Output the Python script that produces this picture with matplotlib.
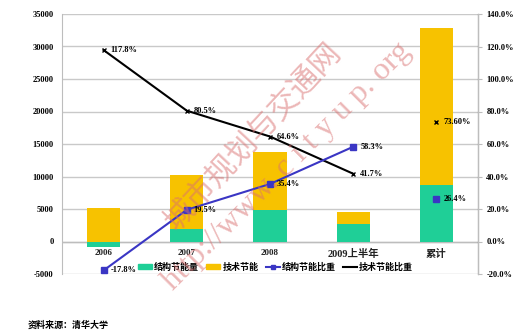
import numpy as np
import matplotlib
matplotlib.use("Agg")
import matplotlib.pyplot as plt
from matplotlib.lines import Line2D
from matplotlib.patches import Patch

categories = ["2006", "2007", "2008", "2009上半年", "累计"]
struct_saving = [-800, 2000, 4900, 2700, 8700]      # 结构节能量
tech_saving = [5200, 8300, 8900, 1900, 24200]       # 技术节能
struct_pct = [-17.8, 19.5, 35.4, 58.3, 26.4]        # 结构节能比重
tech_pct = [117.8, 80.5, 64.6, 41.7, 73.6]          # 技术节能比重
struct_pct_labels = ["-17.8%", "19.5%", "35.4%", "58.3%", "26.4%"]
tech_pct_labels = ["117.8%", "80.5%", "64.6%", "41.7%", "73.60%"]
left_ticks = [-5000, 0, 5000, 10000, 15000, 20000, 25000, 30000, 35000]
right_ticks = [-20, 0, 20, 40, 60, 80, 100, 120, 140]

GREEN = "#1fcf97"
YELLOW = "#f7c200"
BLUE = "#3a36c4"
NUM_FONT = ["Liberation Serif", "Noto Sans CJK SC"]
CJK_FONT = ["Noto Sans CJK SC", "DejaVu Sans"]

fig = plt.figure(figsize=(5.19, 3.33), dpi=100)
fig.patch.set_facecolor("white")
ax = fig.add_axes([62 / 519, 1 - 274 / 333, 416 / 519, 260 / 333])
ax2 = ax.twinx()

x = np.arange(len(categories))
struct = np.array(struct_saving)
tech_bottom = np.where(struct > 0, struct, 0)

ax.bar(x, struct_saving, width=0.4, color=GREEN, zorder=2)
ax.bar(x, tech_saving, width=0.4, bottom=tech_bottom, color=YELLOW, zorder=2)

ax.set_xlim(-0.5, len(categories) - 0.5)
ax.set_ylim(-5000, 35000)
ax.set_yticks(left_ticks)
ax.set_yticklabels([str(t) for t in left_ticks], family=NUM_FONT,
                   fontsize=6, fontweight="bold")
ax.yaxis.grid(True, color="#c9c9c9", linewidth=1.0, zorder=0)
ax.set_axisbelow(True)
ax.tick_params(axis="y", length=0, pad=6)
ax.set_xticks([])
for s in ["top", "bottom"]:
    ax.spines[s].set_visible(False)
ax.spines["left"].set_color("#bdbdbd")
ax.axhline(0, color="#bdbdbd", linewidth=1.0, zorder=1)

for i, c in enumerate(categories):
    ax.text(i, -1100, c, ha="center", va="top", family=NUM_FONT,
            fontsize=6.5 if i < 3 else 7.5, fontweight="bold", color="#222222")

# ratio lines on secondary axis
ax2.set_ylim(-20, 140)
ax2.set_yticks(right_ticks)
ax2.set_yticklabels([f"{t:.1f}%" for t in right_ticks], family=NUM_FONT,
                    fontsize=6, fontweight="bold")
ax2.tick_params(axis="y", length=3, color="#bdbdbd", pad=3)
for s in ["top", "bottom", "left"]:
    ax2.spines[s].set_visible(False)
ax2.spines["right"].set_color("#bdbdbd")

ax2.plot(x[:4], tech_pct[:4], color="black", linewidth=1.5,
         marker="x", markersize=3.5, zorder=4)
ax2.plot(x[4], tech_pct[4], color="black", marker="x", markersize=3.5,
         linestyle="none", zorder=4)
ax2.plot(x[:4], struct_pct[:4], color=BLUE, linewidth=1.5,
         marker="s", markersize=4, zorder=4)
ax2.plot(x[4], struct_pct[4], color=BLUE, marker="s", markersize=4,
         linestyle="none", zorder=4)

for i in range(len(categories)):
    ax2.annotate(tech_pct_labels[i], (x[i], tech_pct[i]), xytext=(5, 0),
                 textcoords="offset points", va="center", family=NUM_FONT,
                 fontsize=6, fontweight="bold", zorder=5)
    ax2.annotate(struct_pct_labels[i], (x[i], struct_pct[i]), xytext=(5, 0),
                 textcoords="offset points", va="center", family=NUM_FONT,
                 fontsize=6, fontweight="bold", zorder=5)

handles = [
    Patch(color=GREEN),
    Patch(color=YELLOW),
    Line2D([], [], color=BLUE, linewidth=1.5, marker="s", markersize=3),
    Line2D([], [], color="black", linewidth=1.5),
]
labels = ["结构节能量", "技术节能", "结构节能比重", "技术节能比重"]
leg = ax2.legend(handles, labels, loc="center", bbox_to_anchor=(0.513, 0.025),
                 ncol=4, frameon=False, handlelength=1.6, handleheight=0.5,
                 handletextpad=0.2, columnspacing=0.8,
                 prop={"family": CJK_FONT, "size": 6.5, "weight": "bold"})

fig.text(28 / 519, 1 - 325 / 333, "资料来源：清华大学", family=CJK_FONT,
         fontsize=6.5, fontweight="bold", va="center")

# watermark
fig.text(254 / 519, 1 - 137 / 333, "城市规划与交通网", family=CJK_FONT,
         fontsize=22, color="#d97070", alpha=0.5, rotation=47,
         ha="center", va="center", zorder=10)
fig.text(287 / 519, 1 - 166 / 333, "http://www. c i t y u p. org",
         family=["Liberation Serif"], fontsize=23, color="#d97070",
         alpha=0.5, rotation=45, ha="center", va="center", zorder=10)

fig.savefig("out.png", dpi=100)
